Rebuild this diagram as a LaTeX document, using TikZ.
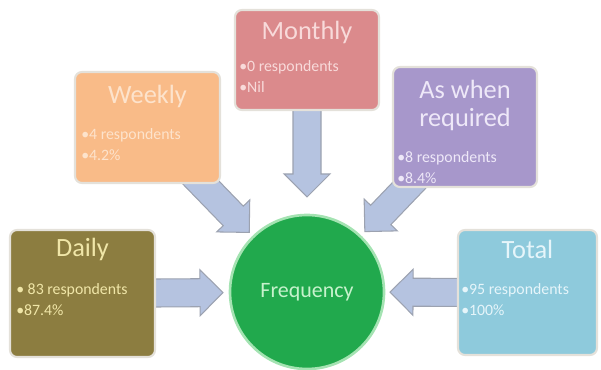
\documentclass[tikz,border=0pt]{standalone}
\usepackage{fontspec}
\setmainfont{Carlito}
\usetikzlibrary{calc,positioning,backgrounds}

\definecolor{dailyfill}{HTML}{8C7D40}
\definecolor{dailytext}{HTML}{F0E6A8}
\definecolor{weeklyfill}{HTML}{F9BB88}
\definecolor{weeklytext}{HTML}{FDE3CC}
\definecolor{monthlyfill}{HTML}{DB8A8C}
\definecolor{monthlytext}{HTML}{F8DADA}
\definecolor{aswhenfill}{HTML}{A797CB}
\definecolor{aswhentext}{HTML}{EEE8F8}
\definecolor{totalfill}{HTML}{8ECADC}
\definecolor{totaltext}{HTML}{E6F5FA}
\definecolor{freqfill}{HTML}{21A94D}
\definecolor{freqline}{HTML}{A4E3B2}
\definecolor{freqtext}{HTML}{C6F2CC}
\definecolor{boxline}{HTML}{E4E1DA}
\definecolor{arrowfill}{HTML}{B5C3E0}
\definecolor{arrowline}{HTML}{9CA2B0}

\tikzset{
  box/.style={draw=boxline, line width=1.2pt, rounded corners=0.14cm},
  boxtitle/.style={inner sep=0pt, font=\fontsize{15}{16}\selectfont, align=center},
  boxitems/.style={inner sep=0pt, font=\fontsize{9}{12}\selectfont, align=left},
  freqnode/.style={circle, fill=freqfill, draw=freqline, line width=1.5pt,
    minimum size=3.08cm, inner sep=0pt, text=freqtext, font=\fontsize{12.5}{14}\selectfont},
  arrowbody/.style={fill=arrowfill, draw=arrowline, line width=0.6pt},
}

% block arrow from the centre of #1 towards #2, tip held back by #3
\newcommand{\blockarrow}[3]{%
  \path[arrowbody] let \p1=(#1), \p2=(#2),
      \n1={atan2(\y2-\y1,\x2-\x1)},
      \n2={veclen(\x2-\x1,\y2-\y1)-#3} in
    [shift={(\p1)}, rotate=\n1]
    (0cm,-0.28cm) -- (\n2-0.46cm,-0.28cm) -- (\n2-0.46cm,-0.46cm) -- (\n2,0cm)
    -- (\n2-0.46cm,0.46cm) -- (\n2-0.46cm,0.28cm) -- (0cm,0.28cm) -- cycle;}

\begin{document}
\begin{tikzpicture}
  \useasboundingbox (0,0) rectangle (12.02,7.4);

  % the five answer boxes
  \node[box, fill=dailyfill, minimum width=2.9cm, minimum height=2.54cm] (daily) at (1.65,1.53) {};
  \node[boxtitle, text=dailytext, below=0.18cm of daily.north] (dailyhead) {Daily};
  \node[boxitems, text=dailytext, below right=1.08cm and 0.14cm of daily.north west] (dailyitems)
    {• 83 respondents\\•87.4\%};

  \node[box, fill=weeklyfill, minimum width=2.9cm, minimum height=2.22cm] (weekly) at (2.95,4.85) {};
  \node[boxtitle, text=weeklytext, below=0.28cm of weekly.north] (weeklyhead) {Weekly};
  \node[boxitems, text=weeklytext, below right=1.14cm and 0.14cm of weekly.north west] (weeklyitems)
    {•4 respondents\\•4.2\%};

  \node[box, fill=monthlyfill, minimum width=2.88cm, minimum height=2.0cm] (monthly) at (6.14,6.2) {};
  \node[boxtitle, text=monthlytext, below=0.24cm of monthly.north] (monthlyhead) {Monthly};
  \node[boxitems, text=monthlytext, below right=1.02cm and 0.1cm of monthly.north west] (monthlyitems)
    {•0 respondents\\•Nil};

  \node[box, fill=aswhenfill, minimum width=2.88cm, minimum height=2.4cm] (aswhen) at (9.30,4.86) {};
  \node[boxtitle, text=aswhentext, below=0.28cm of aswhen.north] (aswhenhead) {As when\\required};
  \node[boxitems, text=aswhentext, below right=1.70cm and 0.1cm of aswhen.north west] (aswhenitems)
    {•8 respondents\\•8.4\%};

  \node[box, fill=totalfill, minimum width=2.78cm, minimum height=2.5cm] (total) at (10.55,1.55) {};
  \node[boxtitle, text=totaltext, below=0.22cm of total.north] (totalhead) {Total};
  \node[boxitems, text=totaltext, below right=1.08cm and 0.08cm of total.north west] (totalitems)
    {•95 respondents\\•100\%};

  % centre
  \node[freqnode] (freq) at (6.14,1.56) {Frequency};

  % arrows run under the boxes
  \begin{pgfonlayer}{background}
    \blockarrow{daily}{freq}{1.68cm}
    \blockarrow{weekly}{freq}{1.64cm}
    \blockarrow{monthly}{freq}{1.90cm}
    \blockarrow{aswhen}{freq}{1.66cm}
    \blockarrow{total}{freq}{1.66cm}
  \end{pgfonlayer}
\end{tikzpicture}
\end{document}
